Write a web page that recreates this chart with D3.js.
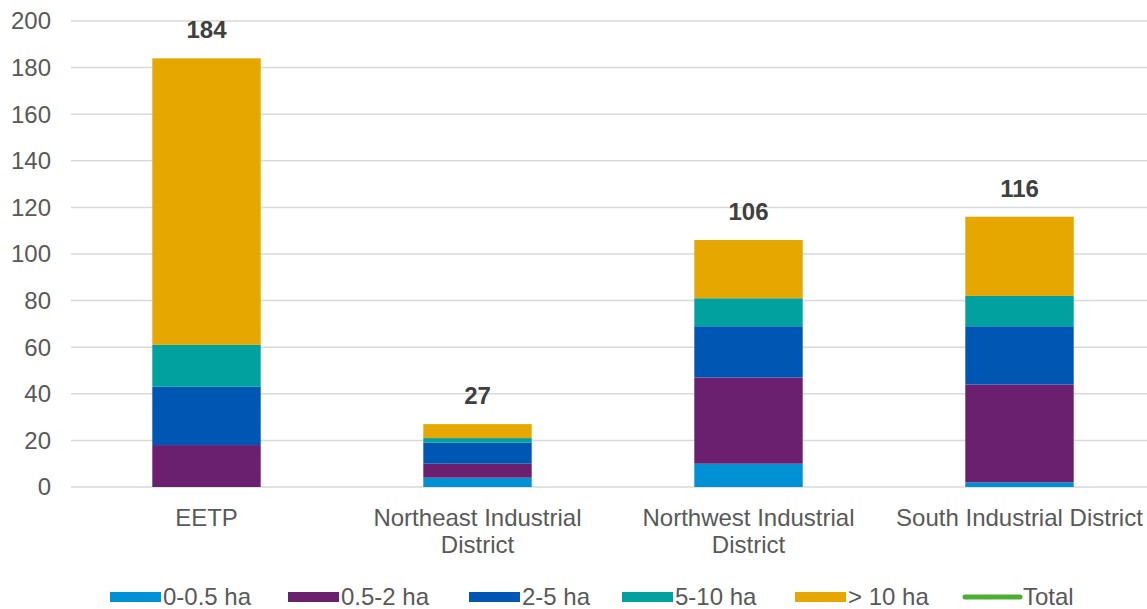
<!DOCTYPE html>
<html>
<head>
<meta charset="utf-8">
<script src="https://cdn.jsdelivr.net/npm/d3@7"></script>
<style>
  body { margin: 0; background: #fff; }
  text { font-family: "Liberation Sans", Arial, sans-serif; }
  .grid line { stroke: #d9d9d9; stroke-width: 1.5; }
  .tick-label { fill: #595959; font-size: 24px; }
  .cat-label { fill: #595959; font-size: 24px; }
  .total-label { fill: #404040; font-size: 24px; font-weight: bold; }
  .legend text { fill: #595959; font-size: 24px; }
</style>
</head>
<body>
<svg width="1147" height="609"></svg>
<script>
const categories = ["EETP", "Northeast Industrial District", "Northwest Industrial District", "South Industrial District"];
const seriesNames = ["0-0.5 ha", "0.5-2 ha", "2-5 ha", "5-10 ha", "> 10 ha"];
const s0_05 = [0, 4, 10, 2];
const s05_2 = [18, 6, 37, 42];
const s2_5 = [25, 9, 22, 25];
const s5_10 = [18, 2, 12, 13];
const s10 = [123, 6, 25, 34];
const totals = [184, 27, 106, 116];
const yTicks = [0, 20, 40, 60, 80, 100, 120, 140, 160, 180, 200];

const colors = ["#0091d5", "#6a1f6f", "#0057b3", "#00a19e", "#e6a800"];
const totalColor = "#4caf32";

const svg = d3.select("svg");
const W = +svg.attr("width");

const x = d3.scaleBand()
  .domain(categories)
  .range([71, 1155])
  .paddingInner(0.6)
  .paddingOuter(0.3);

const y = d3.scaleLinear()
  .domain([0, 200])
  .range([487, 21]);

// table for stacking
const table = categories.map((c, i) => ({
  cat: c,
  "0-0.5 ha": s0_05[i],
  "0.5-2 ha": s05_2[i],
  "2-5 ha": s2_5[i],
  "5-10 ha": s5_10[i],
  "> 10 ha": s10[i]
}));
const stacked = d3.stack().keys(seriesNames)(table);

// gridlines
svg.append("g").attr("class", "grid")
  .selectAll("line")
  .data(yTicks)
  .join("line")
  .attr("x1", 71).attr("x2", W)
  .attr("y1", d => y(d)).attr("y2", d => y(d));

// y labels
svg.append("g")
  .selectAll("text")
  .data(yTicks)
  .join("text")
  .attr("class", "tick-label")
  .attr("x", 51)
  .attr("y", d => y(d))
  .attr("dy", "0.35em")
  .attr("text-anchor", "end")
  .text(d => d);

// bars
svg.append("g")
  .selectAll("g")
  .data(stacked)
  .join("g")
  .attr("fill", (d, i) => colors[i])
  .selectAll("rect")
  .data(d => d)
  .join("rect")
  .attr("x", d => x(d.data.cat))
  .attr("width", x.bandwidth())
  .attr("y", d => y(d[1]))
  .attr("height", d => y(d[0]) - y(d[1]));

// totals
svg.append("g")
  .selectAll("text")
  .data(categories)
  .join("text")
  .attr("class", "total-label")
  .attr("x", d => x(d) + x.bandwidth() / 2)
  .attr("y", (d, i) => y(totals[i]) - 20)
  .attr("text-anchor", "middle")
  .text((d, i) => totals[i]);

// category labels with wrapping
const catG = svg.append("g");
categories.forEach(c => {
  const cx = x(c) + x.bandwidth() / 2;
  const t = catG.append("text")
    .attr("class", "cat-label")
    .attr("x", cx)
    .attr("y", 526)
    .attr("text-anchor", "middle");
  const words = c.split(" ");
  let line = [];
  let tspan = t.append("tspan").attr("x", cx).attr("dy", 0);
  words.forEach(w => {
    line.push(w);
    tspan.text(line.join(" "));
    if (tspan.node().getComputedTextLength() > x.step() - 10 && line.length > 1) {
      line.pop();
      tspan.text(line.join(" "));
      line = [w];
      tspan = t.append("tspan").attr("x", cx).attr("dy", 27).text(w);
    }
  });
});

// legend
const legendItems = [
  {name: "0-0.5 ha", color: colors[0], x: 110},
  {name: "0.5-2 ha", color: colors[1], x: 288},
  {name: "2-5 ha", color: colors[2], x: 469},
  {name: "5-10 ha", color: colors[3], x: 622},
  {name: "> 10 ha", color: colors[4], x: 795},
  {name: "Total", color: totalColor, x: 963, line: true}
];
const lg = svg.append("g").attr("class", "legend")
  .selectAll("g")
  .data(legendItems)
  .join("g")
  .attr("transform", d => `translate(${d.x},597)`);
lg.filter(d => !d.line).append("rect")
  .attr("x", 0).attr("y", -5).attr("width", 51).attr("height", 10)
  .attr("fill", d => d.color);
lg.filter(d => d.line).append("line")
  .attr("x1", 2).attr("x2", 57).attr("y1", 0).attr("y2", 0)
  .attr("stroke", d => d.color).attr("stroke-width", 5)
  .attr("stroke-linecap", "round");
lg.append("text")
  .attr("x", d => d.line ? 60 : 53)
  .attr("dy", "0.35em")
  .text(d => d.name);
</script>
</body>
</html>
